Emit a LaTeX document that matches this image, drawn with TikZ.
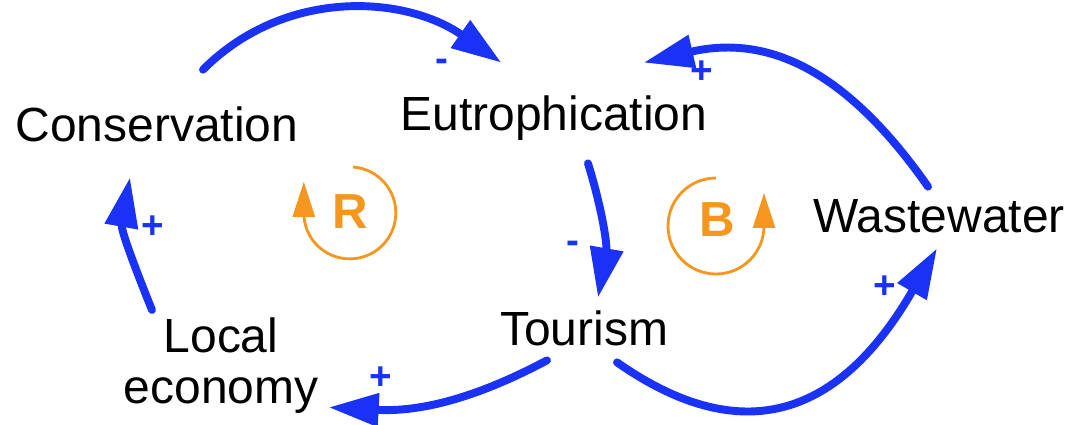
\documentclass[tikz,border=0pt]{standalone}
\usepackage{fontspec}
\setmainfont{Liberation Sans}
\usetikzlibrary{arrows.meta}
\definecolor{cldblue}{RGB}{25,50,245}
\definecolor{looporange}{RGB}{245,150,30}

\begin{document}
\begin{tikzpicture}[x=0.02cm, y=0.02cm,
	txt/.style={inner sep=0pt, font=\fontsize{27.3}{29}\selectfont},
	var/.style={txt, anchor=base, text height=0.7cm, text depth=0.2cm},
	link/.style={draw=cldblue, line width=4.5pt, line cap=round, -{Triangle[length=1cm,width=0.64cm]}},
	sgn/.style={inner sep=0pt, text=cldblue, font=\fontsize{22}{24}\selectfont\bfseries},
	loopsym/.style={inner sep=0pt, text=looporange, font=\fontsize{28}{30}\selectfont\bfseries},
	looparc/.style={draw=looporange, line width=1.6pt, -{Triangle[length=0.7cm,width=0.44cm]}}]
	\useasboundingbox (0,0) rectangle (1086,424);
	\node[var] (Cons) at (157,283) {Conservation};
	\node[var] (Eut) at (554,294) {Eutrophication};
	\node[var] (Waste) at (939,192) {Wastewater};
	\node[var] (Tour) at (584,79) {Tourism};
	\node[txt, align=center, anchor=north] (Econ) at (221,107) {Local\\economy};
	\draw[link] ([shift={(46,36)}]Cons.north) to[out=45,in=145] node[sgn,pos=1,shift={(-59,-3)}] {-} ([shift={(101,32)}]Eut.north west);
	\draw[link] ([shift={(-11,10)}]Waste.north) to[out=125,in=13,looseness=1.1] node[sgn,pos=1,shift={(58,-10)}] {+} ([shift={(-64,32)}]Eut.north east);
	\draw[link] ([shift={(34,-23)}]Eut.south) to[out=-73,in=80] node[sgn,pos=1,shift={(-25,50)}] {-} ([shift={(14,12)}]Tour.north);
	\draw[link] ([shift={(33,-7)}]Tour.south) to[out=-35,in=240,looseness=1.3] node[sgn,pos=1,shift={(-52,-39)}] {+} ([shift={(-2,-6)}]Waste.south);
	\draw[link] ([shift={(-37,-5)}]Tour.south) to[out=208,in=-3] node[sgn,pos=1,shift={(52,29)}] {+} ([shift={(10,6)}]Econ.south east);
	\draw[link] ([shift={(-69,7)}]Econ.north) to[out=112,in=260] node[sgn,pos=1,shift={(23,-50)}] {+} ([shift={(-27,-26)}]Cons.south);
	\node[loopsym] (R) at (350,212) {R};
	\node[loopsym] (B) at (717,204) {B};
	\draw[looparc] ([shift={(3,45)}]R.center) arc[start angle=86, end angle=-180, radius=46] -- ++(0,31);
	\draw[looparc] ([shift={(-1,42)}]B.center) arc[start angle=90, end angle=360, radius=48] -- ++(0,33);
\end{tikzpicture}
\end{document}
